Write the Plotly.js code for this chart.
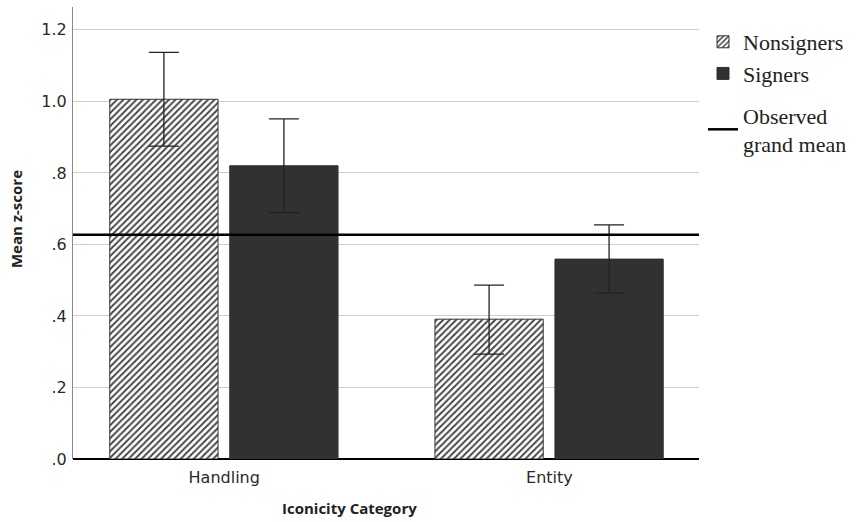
<!DOCTYPE html>
<html><head><meta charset="utf-8">
<script src="https://cdn.plot.ly/plotly-3.0.1.min.js"></script>
<style>body{margin:0;background:#fff}#c{width:858px;height:522px}</style>
</head><body><div id="c"></div>
<script>
const categories = ["Handling", "Entity"];
const nonsigners = [1.006, 0.391];
const nonsignersErrHi = [1.137, 0.486];
const nonsignersErrLo = [0.875, 0.293];
const signers = [0.820, 0.559];
const signersErrHi = [0.951, 0.655];
const signersErrLo = [0.689, 0.464];
const grandMean = 0.627;
const yTickVals = [0, 0.2, 0.4, 0.6, 0.8, 1.0, 1.2];
const yTickText = [".0", ".2", ".4", ".6", ".8", "1.0", "1.2"];

const err = (v, hi, lo) => ({
  type: 'data', symmetric: false,
  array: hi.map((h, i) => h - v[i]),
  arrayminus: lo.map((l, i) => v[i] - l),
  color: '#222', thickness: 1.3, width: 15
});

const traces = [
  {type: 'bar', name: 'Nonsigners', x: categories, y: nonsigners,
   legendgroup: 'a', width: 0.333, offset: -0.352,
   marker: {color: '#ffffff', line: {color: '#333', width: 1},
            pattern: {shape: '/', size: 4.6, solidity: 0.4, fgcolor: '#444', bgcolor: '#fff'}},
   error_y: err(nonsigners, nonsignersErrHi, nonsignersErrLo), hoverinfo: 'skip'},
  {type: 'bar', name: 'Signers', x: categories, y: signers,
   legendgroup: 'a', width: 0.333, offset: 0.017,
   marker: {color: '#313131', line: {color: '#313131', width: 1}},
   error_y: err(signers, signersErrHi, signersErrLo), hoverinfo: 'skip'}
];

const layout = {
  width: 858, height: 522,
  margin: {l: 73, r: 158, t: 7, b: 63},
  paper_bgcolor: '#fff', plot_bgcolor: '#fff',
  barmode: 'overlay',
  font: {family: 'DejaVu Sans', size: 16, color: '#2a2a2a'},
  xaxis: {range: [-0.465, 1.46], showgrid: false, showline: false, ticks: '',
          ticklabelstandoff: 7,
          tickfont: {family: 'DejaVu Sans', size: 16, color: '#2a2a2a'}},
  yaxis: {range: [0, 1.264], tickvals: yTickVals, ticktext: yTickText,
          showgrid: true, gridcolor: '#cfcfcf', gridwidth: 1,
          showline: true, linecolor: '#8a8a8a', linewidth: 1, ticks: '',
          ticklabelstandoff: 2,
          zeroline: true, zerolinecolor: '#000', zerolinewidth: 2.5,
          tickfont: {family: 'DejaVu Sans', size: 16, color: '#2a2a2a'}},
  shapes: [{type: 'line', xref: 'paper', x0: 0, x1: 1, yref: 'y', y0: grandMean, y1: grandMean,
            line: {color: '#000', width: 2.5}, showlegend: true, name: 'Observed<br>grand mean',
            legendgroup: 'b'}],
  showlegend: true,
  legend: {x: 1 + (703 - 700) / 627, xanchor: 'left', y: 0.969, yanchor: 'top',
           font: {family: 'Liberation Serif', size: 22, color: '#222'},
           tracegroupgap: 10, itemwidth: 30, bgcolor: 'rgba(0,0,0,0)'},
  annotations: [
    {text: 'Iconicity Category', xref: 'paper', yref: 'paper', x: (350 - 73) / 627, y: -49 / 452,
     showarrow: false, xanchor: 'center', yanchor: 'middle',
     font: {family: 'Open Sans', size: 15, color: '#222', weight: 'bold'}},
    {text: 'Mean z-score', xref: 'paper', yref: 'paper', x: (16 - 73) / 627, y: (459 - 219) / 452,
     showarrow: false, xanchor: 'center', yanchor: 'middle', textangle: -90,
     font: {family: 'Open Sans', size: 15, color: '#222', weight: 'bold'}}
  ]
};

Plotly.newPlot('c', traces, layout, {staticPlot: true, displayModeBar: false});
</script></body></html>
